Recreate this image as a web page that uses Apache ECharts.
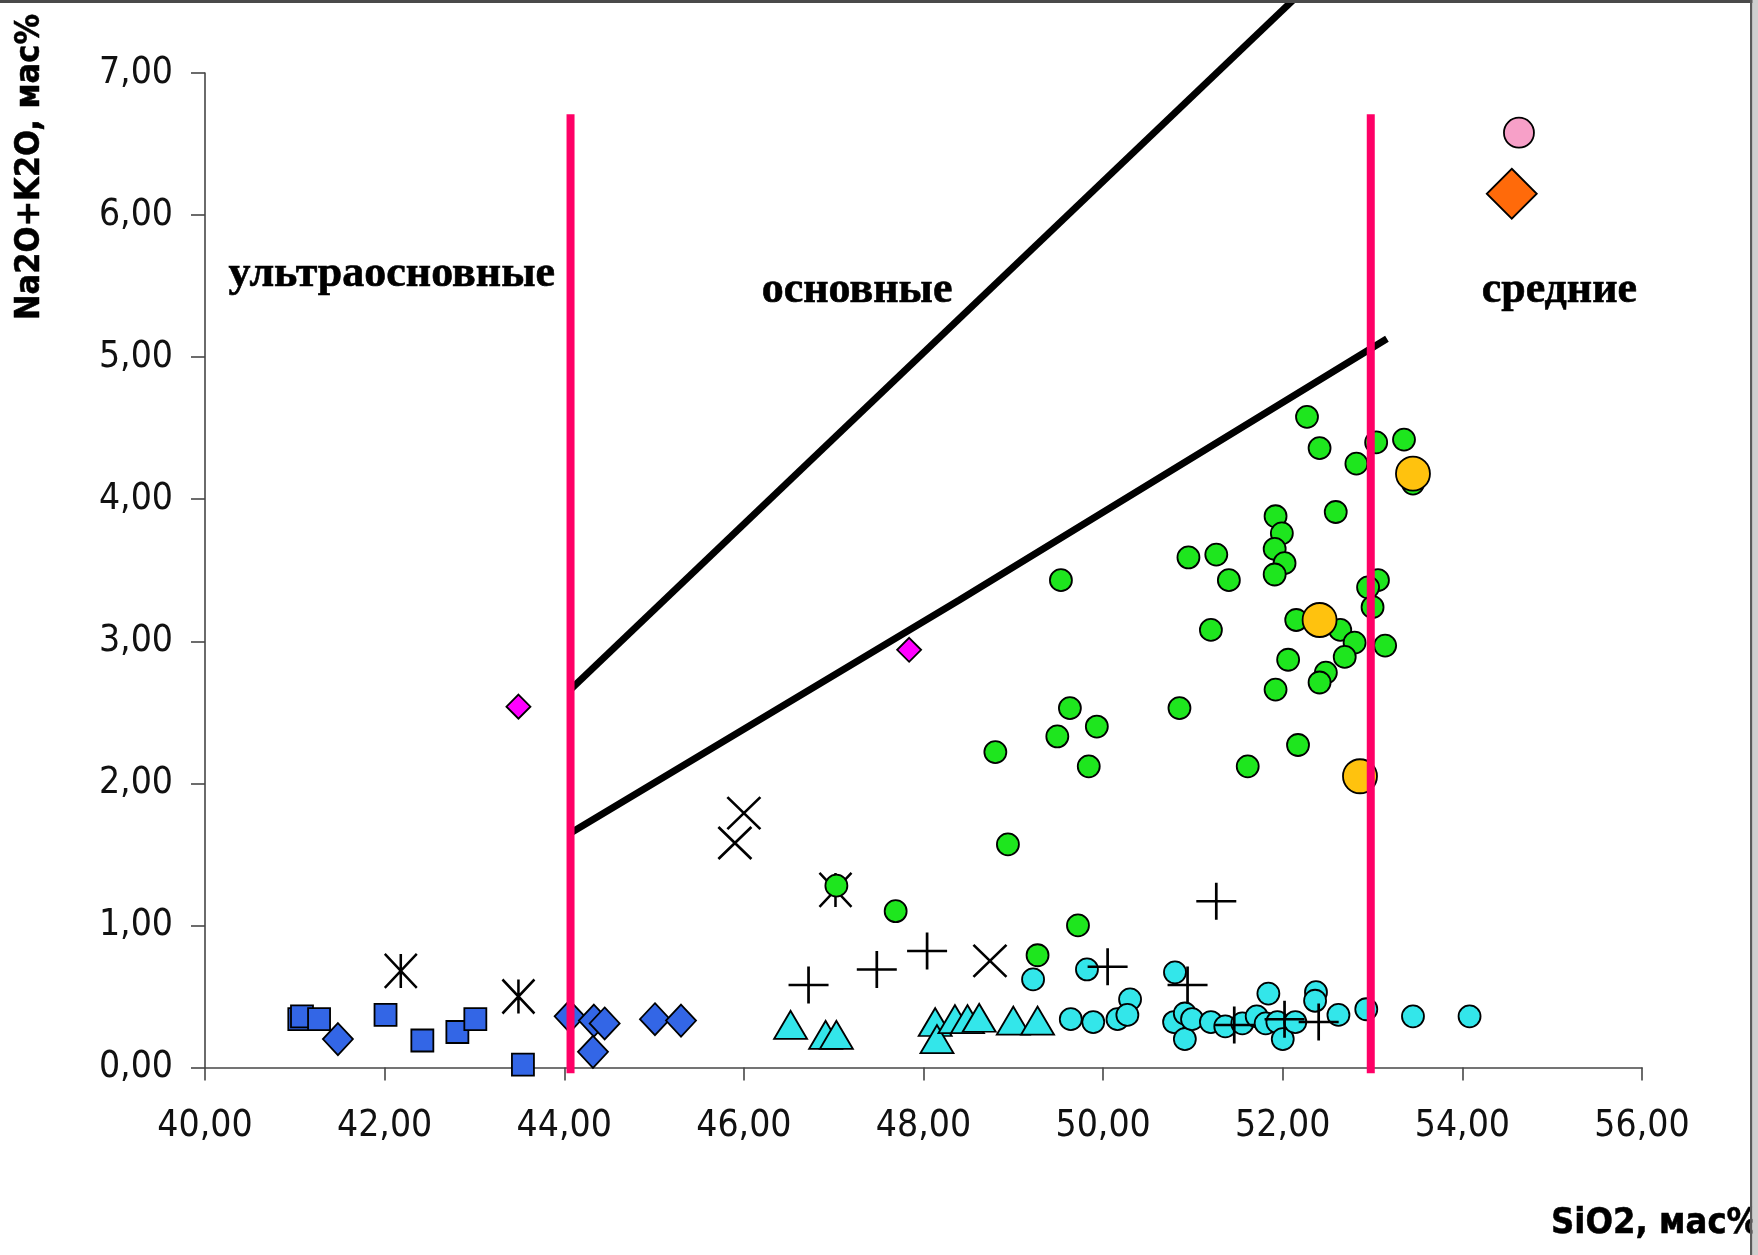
<!DOCTYPE html>
<html><head><meta charset="utf-8">
<script src="https://cdn.jsdelivr.net/npm/echarts@6/dist/echarts.min.js"></script>
<style>html,body{margin:0;padding:0;background:#fff;overflow:hidden}#c{width:1758px;height:1255px}</style>
</head><body><div id="c"></div>
<script>
// ---- axes ----
const xMin = 40, xMax = 56, xStep = 2;
const yMin = 0, yMax = 7, yStep = 1;
const xTitle = 'SiO2, мас%';
const yTitle = 'Na2O+K2O, мас%';

// ---- boundary lines ----
const upperLine = [[44.07, 2.66], [52.11, 7.51]];
const lowerLine = [[44.07, 1.65], [48.40, 3.29], [53.16, 5.13]];
const leftBound = [[44.07, -0.04], [44.07, 6.71]];
const rightBound = [[52.98, -0.04], [52.98, 6.71]];

// ---- region labels ----
const regionNames = ['ультраосновные', 'основные', 'средние'];
const regionAnchors = [[42.08, 5.58], [47.26, 5.47], [55.08, 5.47]];

// ---- data series ----
const blueSquares = [[41.05,0.34],[41.08,0.36],[41.27,0.34],[42.01,0.37],[42.42,0.19],[42.81,0.25],[43.01,0.34],[43.54,0.02]];
const blueDiamonds = [[41.48,0.20],[44.06,0.36],[44.33,0.33],[44.45,0.31],[44.32,0.11],[45.01,0.34],[45.30,0.33]];
const magentaDiamonds = [[43.49,2.54],[47.84,2.94]];
const asterisks = [[42.18,0.68],[43.49,0.50],[47.02,1.25]];
const crosses = [[45.90,1.58],[46.00,1.79],[48.74,0.75]];
const pluses = [[46.72,0.58],[47.48,0.69],[48.04,0.82],[50.05,0.71],[51.26,1.17],[50.94,0.58],[51.46,0.30],[52.02,0.34],[52.40,0.32]];
const cyanTriangles = [[46.52,0.30],[46.91,0.23],[47.03,0.23],[48.13,0.32],[48.15,0.20],[48.35,0.34],[48.49,0.34],[48.62,0.35],[49.00,0.33],[49.27,0.33]];
const cyanCircles = [[49.22,0.62],[49.82,0.69],[49.64,0.34],[49.89,0.32],[50.16,0.34],[50.30,0.48],[50.27,0.37],[50.80,0.67],[50.79,0.32],[50.91,0.38],[50.91,0.20],[50.99,0.34],[51.20,0.32],[51.36,0.29],[51.55,0.31],[51.71,0.36],[51.84,0.52],[51.81,0.31],[51.94,0.32],[52.00,0.20],[52.14,0.32],[52.37,0.53],[52.36,0.47],[52.62,0.37],[52.93,0.41],[53.45,0.36],[54.08,0.36]];
const greenCircles = [[52.27,4.58],[52.41,4.36],[53.04,4.40],[53.35,4.42],[52.82,4.25],[53.45,4.11],[52.59,3.91],[51.92,3.88],[51.99,3.76],[51.91,3.65],[52.02,3.55],[51.91,3.47],[50.95,3.59],[51.26,3.61],[51.40,3.43],[49.53,3.43],[53.06,3.43],[52.95,3.38],[53.00,3.24],[52.15,3.15],[52.64,3.08],[52.80,2.99],[53.14,2.97],[52.69,2.89],[52.06,2.87],[52.48,2.78],[52.41,2.71],[51.92,2.66],[51.20,3.08],[49.63,2.53],[49.93,2.40],[49.49,2.33],[48.80,2.22],[49.84,2.12],[50.85,2.53],[51.61,2.12],[52.17,2.27],[48.94,1.57],[47.03,1.28],[47.69,1.10],[49.27,0.79],[49.72,1.00]];
const yellowCircles = [[53.45,4.18],[52.41,3.15],[52.86,2.05]];
const pinkCircle = [[54.63,6.58]];
const orangeDiamond = [[54.55,6.15]];

const chart = echarts.init(document.getElementById('c'), null, {renderer: 'canvas'});
const tickFont = 'DejaVu Sans Condensed, Liberation Sans, sans-serif';
const titleFont = 'DejaVu Sans Condensed, DejaVu Sans, sans-serif';
const fmt = v => v.toFixed(2).replace('.', ',');
const axisCol = '#474747';

function dotSeries(data, symbol, size, color, extra) {
  return Object.assign({
    type: 'scatter', data: data, symbol: symbol, symbolSize: size,
    itemStyle: {color: color, borderColor: '#000', borderWidth: 1.8, opacity: 1},
    emphasis: {disabled: true}, silent: true, animation: false
  }, extra || {});
}
function strokeSeries(data, path, size) {
  return {
    type: 'scatter', data: data, symbol: path, symbolSize: size,
    itemStyle: {color: 'none', borderColor: '#000', borderWidth: 2.6, opacity: 1},
    emphasis: {disabled: true}, silent: true, animation: false
  };
}
function lineSeries(data, color, width, z) {
  return {
    type: 'line', data: data, symbol: 'none', showSymbol: false, clip: false,
    lineStyle: {color: color, width: width, cap: 'butt'}, z: z,
    emphasis: {disabled: true}, silent: true, animation: false
  };
}

const option = {
  backgroundColor: '#ffffff',
  animation: false,
  grid: {left: 205, top: 73, width: 1437, height: 994.5, containLabel: false},
  xAxis: {
    type: 'value', min: xMin, max: xMax, interval: xStep,
    axisLine: {show: true, onZero: false, lineStyle: {color: axisCol, width: 1.6}},
    axisTick: {show: true, length: 13, lineStyle: {color: axisCol, width: 1.6}},
    splitLine: {show: false},
    axisLabel: {margin: 40, fontSize: 37, fontFamily: tickFont, color: '#111', formatter: fmt}
  },
  yAxis: {
    type: 'value', min: yMin, max: yMax, interval: yStep,
    axisLine: {show: true, onZero: false, lineStyle: {color: axisCol, width: 1.6}},
    axisTick: {show: true, length: 14, lineStyle: {color: axisCol, width: 1.6}},
    splitLine: {show: false},
    axisLabel: {margin: 32, fontSize: 37, fontFamily: tickFont, color: '#111', formatter: fmt}
  },
  series: [
    lineSeries(upperLine, '#000', 7, 2),
    lineSeries(lowerLine, '#000', 7, 2),
    strokeSeries(asterisks, 'path://M0,0L10,10M10,0L0,10M5,0L5,10', [32, 34]),
    strokeSeries(crosses, 'path://M0,0L10,10M10,0L0,10', [33, 32]),
    dotSeries(blueSquares, 'rect', 22, '#3366e6'),
    dotSeries(blueDiamonds, 'diamond', [30, 32], '#3366e6'),
    dotSeries(magentaDiamonds, 'diamond', 24, '#ff00ff'),
    dotSeries(cyanTriangles, 'triangle', [33, 28], '#33e6ea'),
    dotSeries(cyanCircles, 'circle', 22, '#33e6ea'),
    strokeSeries(pluses, 'path://M5,0L5,10M0,5L10,5', [40, 37]),
    dotSeries(greenCircles, 'circle', 22, '#1ee61e'),
    dotSeries(yellowCircles, 'circle', 34, '#ffc20e'),
    dotSeries(pinkCircle, 'circle', 30, '#f7a0c8'),
    dotSeries(orangeDiamond, 'diamond', 50, '#ff6a0a'),
    {
      type: 'scatter', symbolSize: 0, silent: true, animation: false,
      itemStyle: {color: '#000', opacity: 1},
      data: regionNames.map((n, i) => ({name: n, value: regionAnchors[i]})),
      label: {show: true, position: 'inside', formatter: p => p.name, opacity: 1,
        fontFamily: 'Liberation Serif', fontWeight: 'bold', fontSize: 44, color: '#000',
        textBorderWidth: 0.6, textBorderColor: '#000'},
      z: 5
    },
    lineSeries(leftBound, '#ff0066', 8, 10),
    lineSeries(rightBound, '#ff0066', 8, 10)
  ],
  graphic: [
    {type: 'text', x: 30, y: 167, rotation: Math.PI / 2, silent: true, z: 100,
      style: {text: yTitle, font: 'bold 34px ' + titleFont, fill: '#000', stroke: '#000', lineWidth: 0.5, textAlign: 'center', textVerticalAlign: 'middle'}},
    {type: 'text', x: 1551, y: 1224, silent: true, z: 100,
      style: {text: xTitle, font: 'bold 36px ' + titleFont, fill: '#000', stroke: '#000', lineWidth: 0.5, textAlign: 'left', textVerticalAlign: 'middle'}},
    {type: 'rect', shape: {x: 0, y: 0, width: 1758, height: 3}, style: {fill: '#4a4a4a'}, silent: true, z: 200},
    {type: 'rect', shape: {x: 1750, y: 0, width: 2.5, height: 1255}, style: {fill: '#5a5a5a'}, silent: true, z: 200},
    {type: 'rect', shape: {x: 1752.5, y: 0, width: 5.5, height: 1255}, style: {fill: '#cfcfcf'}, silent: true, z: 200}
  ]
};
chart.setOption(option);
</script>
</body></html>
